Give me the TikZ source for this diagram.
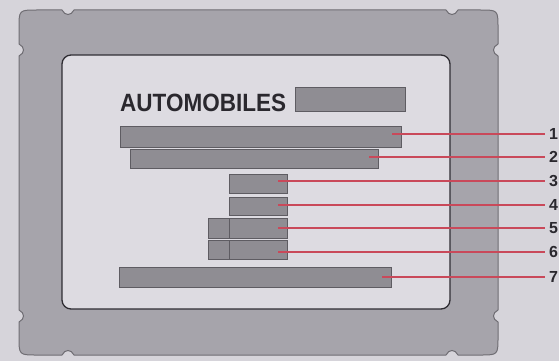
\documentclass[tikz,border=0pt]{standalone}
\usepackage{fontspec}
\setmainfont{Liberation Sans}
\usepackage{xcolor}
\usepackage{tikz}
\usetikzlibrary{positioning}
\definecolor{paperbg}{HTML}{D6D4DA}
\definecolor{cardfill}{HTML}{A6A4AB}
\definecolor{cardedge}{HTML}{6F6D73}
\definecolor{panelfill}{HTML}{DDDBE1}
\definecolor{paneledge}{HTML}{2E2C32}
\definecolor{barfill}{HTML}{8F8D93}
\definecolor{baredge}{HTML}{5E5C62}
\definecolor{inkdark}{HTML}{2A282E}
\definecolor{calloutred}{HTML}{C9495A}

\tikzset{
  bar/.style={draw=baredge, fill=barfill, line width=0.8pt, inner sep=0pt},
  callout/.style={draw=calloutred, line width=1.1pt, shorten <=-9pt},
  num/.style={anchor=west, inner xsep=4pt, inner ysep=0pt, text=inkdark,
              font=\fontsize{16}{16}\selectfont\bfseries}
}

\begin{document}
\begin{tikzpicture}[x=1pt, y=-1pt]
    \useasboundingbox[fill=paperbg] (0,0) rectangle (559,361);

    % card with notched corners
    \draw[fill=cardfill, draw=cardedge, line width=1pt]
      (37,10) -- (62,10) .. controls (65,16) and (71,16) .. (74,10)
      -- (446,10) .. controls (449,16) and (455,16) .. (458,10)
      -- (480,10) .. controls (498,10) .. (498,28)
      -- (498,44) .. controls (492,47) and (492,53) .. (498,56)
      -- (498,310) .. controls (492,313) and (492,319) .. (498,322)
      -- (498,337) .. controls (498,355) .. (480,355)
      -- (458,355) .. controls (455,349) and (449,349) .. (446,355)
      -- (74,355) .. controls (71,349) and (65,349) .. (62,355)
      -- (37,355) .. controls (19,355) .. (19,337)
      -- (19,322) .. controls (25,319) and (25,313) .. (19,310)
      -- (19,56) .. controls (25,53) and (25,47) .. (19,44)
      -- (19,28) .. controls (19,10) .. (37,10) -- cycle;

    % inner panel
    \draw[fill=panelfill, draw=paneledge, line width=1.3pt, rounded corners=9pt]
      (62,55) rectangle (450,309);

    % heading
    \node[anchor=base west, inner sep=0pt, text=inkdark,
          font=\fontsize{25}{25}\selectfont\bfseries] (title) at (120,111)
      {\scalebox{0.9}[1]{AUTOMOBILES}};
    \node[bar, minimum width=110pt, minimum height=24pt] (bar0) at (350,99) {};

    % text lines
    \node[bar, minimum width=281pt, minimum height=21pt] (bar1) at (260.5,136.5) {};
    \node[bar, minimum width=248pt, minimum height=19pt] (bar2) at (254,158.5) {};
    \node[bar, minimum width=58pt, minimum height=19pt] (bar3) at (258,183.5) {};
    \node[bar, minimum width=58pt, minimum height=18pt] (bar4) at (258,206) {};
    \node[bar, minimum width=58pt, minimum height=20pt] (bar5) at (258,228) {};
    \node[bar, minimum width=21pt, minimum height=20pt, left=-0.8pt of bar5] (box5) {};
    \node[bar, minimum width=58pt, minimum height=19pt] (bar6) at (258,250) {};
    \node[bar, minimum width=21pt, minimum height=19pt, left=-0.8pt of bar6] (box6) {};
    \node[bar, minimum width=272pt, minimum height=20pt] (bar7) at (255,277) {};

    % numbers
    \node[num] (n1) at (545,134) {1};
    \node[num] (n2) at (545,157) {2};
    \node[num] (n3) at (545,181) {3};
    \node[num] (n4) at (545,205) {4};
    \node[num] (n5) at (545,228) {5};
    \node[num] (n6) at (545,252) {6};
    \node[num] (n7) at (545,277) {7};

    \draw[callout] (bar1.east |- n1) -- (n1.west);
    \draw[callout] (bar2.east |- n2) -- (n2.west);
    \draw[callout] (bar3.east |- n3) -- (n3.west);
    \draw[callout] (bar4.east |- n4) -- (n4.west);
    \draw[callout] (bar5.east |- n5) -- (n5.west);
    \draw[callout] (bar6.east |- n6) -- (n6.west);
    \draw[callout] (bar7.east |- n7) -- (n7.west);
\end{tikzpicture}
\end{document}
